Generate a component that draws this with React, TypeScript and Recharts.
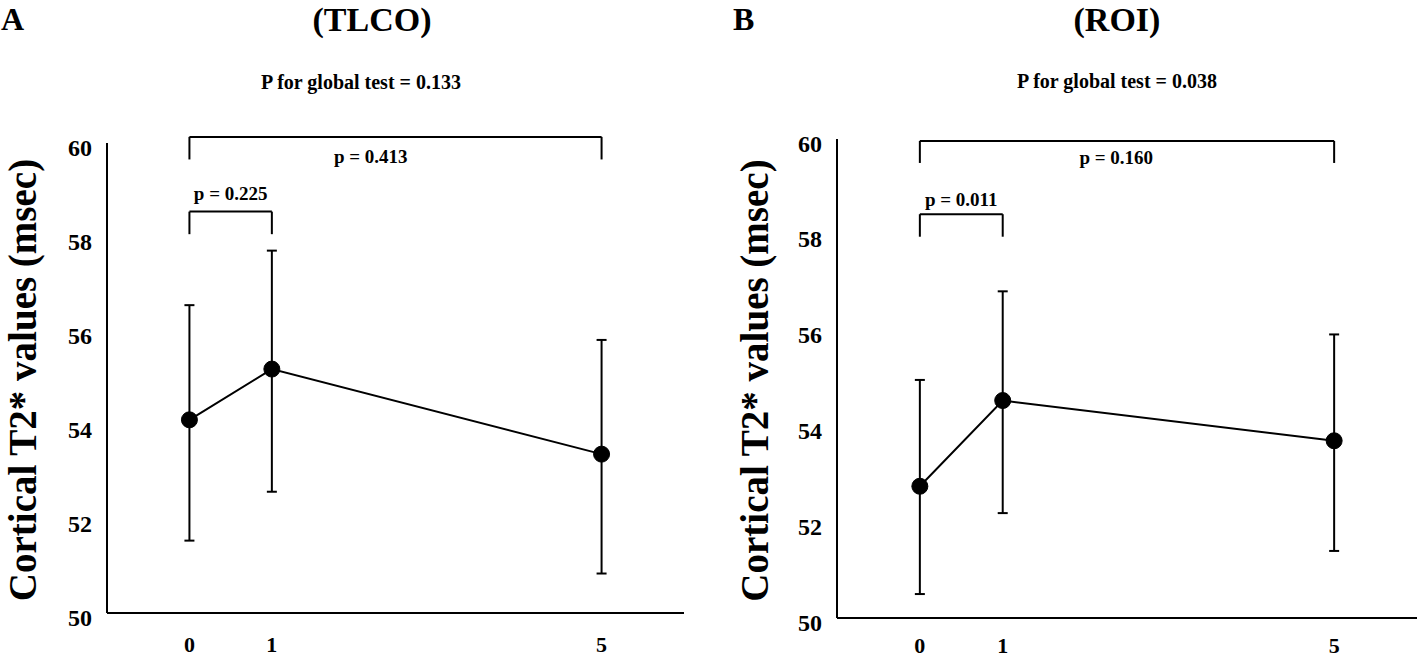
import React from 'react';
import { ComposedChart, ErrorBar, Line, ReferenceDot, ReferenceLine, XAxis, YAxis } from 'recharts';

const FONT = '"Liberation Serif", "Times New Roman", serif';

// shared axes
const timePoints = [0, 1, 5];
const xTicks = [0, 1, 5];
const yTicks = [50, 52, 54, 56, 58, 60];

// panel A (TLCO)
const tlcoMean = [54.11, 55.19, 53.38];
const tlcoLower = [51.54, 52.58, 50.84];
const tlcoUpper = [56.55, 57.71, 55.81];
const tlcoPairFrom = [0, 0];
const tlcoPairTo = [5, 1];
const tlcoPairLevel = [60.13, 58.54];
const tlcoPairFoot = [59.65, 58.06];
const tlcoPairLabel = ['p = 0.413', 'p = 0.225'];
const tlcoLabelX = [2.2, 0.5];
const tlcoLabelY = [59.57, 58.79];

// panel B (ROI)
const roiMean = [52.75, 54.54, 53.7];
const roiLower = [50.5, 52.19, 51.4];
const roiUpper = [54.97, 56.82, 55.92];
const roiPairFrom = [0, 0];
const roiPairTo = [5, 1];
const roiPairLevel = [59.96, 58.43];
const roiPairFoot = [59.5, 57.96];
const roiPairLabel = ['p = 0.160', 'p = 0.011'];
const roiLabelX = [2.37, 0.5];
const roiLabelY = [59.48, 58.6];

const Panel = (props: any) => {
  const { mean, lower, upper, from, to, level, foot, labels, labelX, labelY, width, axisWidth, top, right, xAxisHeight, xTickMargin, yLabelX } = props;
  const data = timePoints.map((t, i) => ({
    t,
    mean: mean[i],
    err: [mean[i] - lower[i], upper[i] - mean[i]],
  }));

  const yLabel = (p: any) => {
    const { y, height } = p.viewBox;
    const cy = y + height / 2 + 2;
    return (
      <text
        x={yLabelX}
        y={cy}
        transform={`rotate(-90, ${yLabelX}, ${cy})`}
        textAnchor="middle"
        fontFamily={FONT}
        fontWeight={700}
        fontSize={39}
        fill="#000"
      >
        Cortical T2* values (msec)
      </text>
    );
  };

  return (
    <ComposedChart width={width} height={658} data={data} margin={{ top, right, bottom: 0, left: 0 }}>
      <XAxis
        dataKey="t"
        type="number"
        domain={[-1, 6]}
        ticks={xTicks}
        tickLine={false}
        tickSize={0}
        tickMargin={xTickMargin}
        height={xAxisHeight}
        axisLine={{ stroke: '#000', strokeWidth: 2 }}
        tick={{ fill: '#000', fontSize: 22, fontWeight: 700, fontFamily: FONT }}
      />
      <YAxis
        type="number"
        domain={[50, 60]}
        ticks={yTicks}
        width={axisWidth}
        tickLine={false}
        tickSize={0}
        tickMargin={15}
        axisLine={{ stroke: '#000', strokeWidth: 2 }}
        tick={{ fill: '#000', fontSize: 24, fontWeight: 700, fontFamily: FONT, dy: 4 }}
        label={yLabel}
      />
      {from.map((f: number, i: number) => (
        <React.Fragment key={i}>
          <ReferenceLine segment={[{ x: f, y: foot[i] }, { x: f, y: level[i] }]} stroke="#000" strokeWidth={2} ifOverflow="visible" />
          <ReferenceLine segment={[{ x: f, y: level[i] }, { x: to[i], y: level[i] }]} stroke="#000" strokeWidth={2} ifOverflow="visible" />
          <ReferenceLine segment={[{ x: to[i], y: level[i] }, { x: to[i], y: foot[i] }]} stroke="#000" strokeWidth={2} ifOverflow="visible" />
          <ReferenceDot
            x={labelX[i]}
            y={labelY[i]}
            r={1}
            fill="none"
            stroke="none"
            ifOverflow="visible"
            label={(p: any) => (
              <text
                x={p.viewBox.x + (p.viewBox.width || 0) / 2}
                y={p.viewBox.y + (p.viewBox.height || 0) / 2}
                textAnchor="middle"
                fontFamily={FONT}
                fontWeight={700}
                fontSize={19}
                fill="#000"
              >
                {labels[i]}
              </text>
            )}
          />
        </React.Fragment>
      ))}
      <Line
        dataKey="mean"
        type="linear"
        stroke="#000"
        strokeWidth={2}
        dot={{ r: 8, fill: '#000', stroke: '#000', strokeWidth: 1 }}
        activeDot={false}
        isAnimationActive={false}
      >
        <ErrorBar dataKey="err" direction="y" width={5} stroke="#000" strokeWidth={2} isAnimationActive={false} />
      </Line>
    </ComposedChart>
  );
};

const textStyle = { fontFamily: FONT, fontWeight: 700, fill: '#000' } as const;

export default function App() {
  return (
    <div style={{ position: 'absolute', left: 0, top: 0, width: 1417, height: 658, background: '#fff', overflow: 'hidden' }}>
      <div style={{ position: 'absolute', left: 0, top: 0 }}>
        <Panel
          mean={tlcoMean}
          lower={tlcoLower}
          upper={tlcoUpper}
          from={tlcoPairFrom}
          to={tlcoPairTo}
          level={tlcoPairLevel}
          foot={tlcoPairFoot}
          labels={tlcoPairLabel}
          labelX={tlcoLabelX}
          labelY={tlcoLabelY}
          width={708}
          axisWidth={107}
          top={143}
          right={24}
          xAxisHeight={45}
          xTickMargin={23}
          yLabelX={36}
        />
      </div>
      <div style={{ position: 'absolute', left: 709, top: 0 }}>
        <Panel
          mean={roiMean}
          lower={roiLower}
          upper={roiUpper}
          from={roiPairFrom}
          to={roiPairTo}
          level={roiPairLevel}
          foot={roiPairFoot}
          labels={roiPairLabel}
          labelX={roiLabelX}
          labelY={roiLabelY}
          width={708}
          axisWidth={128}
          top={139}
          right={0}
          xAxisHeight={40}
          xTickMargin={19}
          yLabelX={59}
        />
      </div>
      <svg width={1417} height={658} style={{ position: 'absolute', left: 0, top: 0, pointerEvents: 'none' }}>
        <text x={1} y={30} fontSize={32} {...textStyle}>A</text>
        <text x={372} y={31} fontSize={34} textAnchor="middle" {...textStyle}>(TLCO)</text>
        <text x={361} y={89} fontSize={20} textAnchor="middle" {...textStyle}>P for global test = 0.133</text>
        <text x={733} y={30} fontSize={32} {...textStyle}>B</text>
        <text x={1117} y={31} fontSize={34} textAnchor="middle" {...textStyle}>(ROI)</text>
        <text x={1117} y={88} fontSize={20} textAnchor="middle" {...textStyle}>P for global test = 0.038</text>
      </svg>
    </div>
  );
}
